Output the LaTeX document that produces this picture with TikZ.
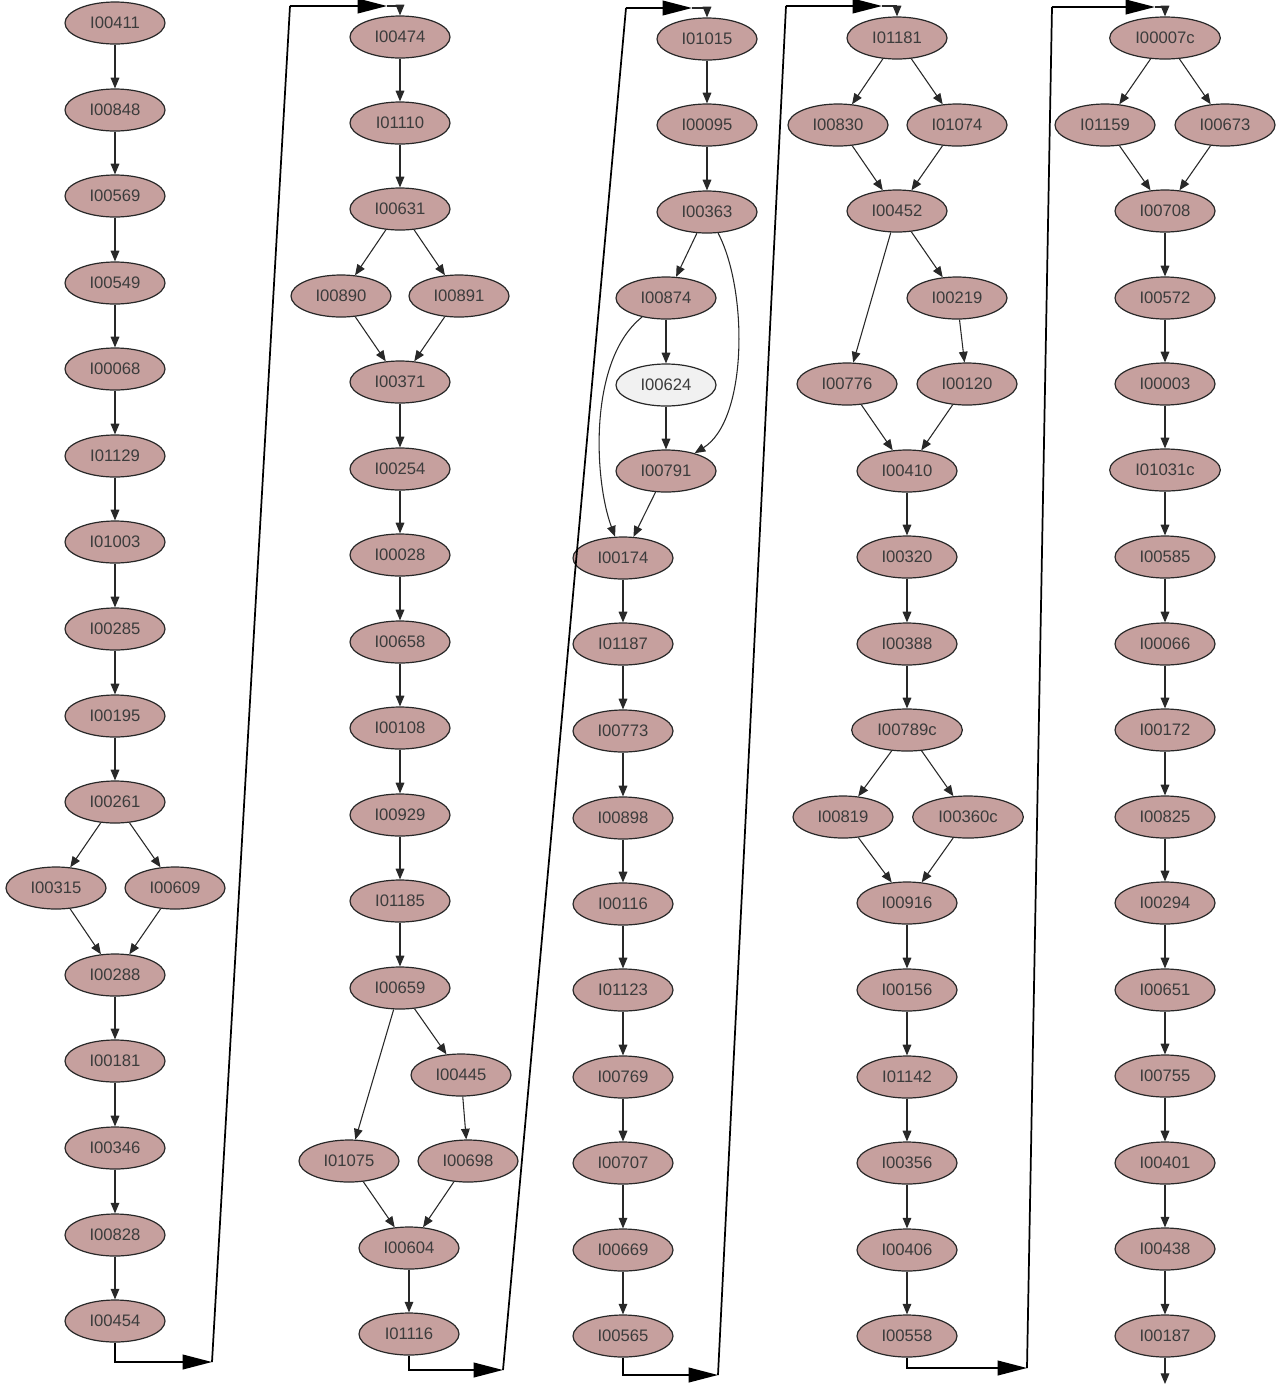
\documentclass[tikz,border=0pt]{standalone}
\usepackage{fontspec}
\setmainfont{Liberation Sans}
\usepackage{xcolor}
\usetikzlibrary{arrows.meta,shapes.geometric}
\definecolor{rose}{RGB}{198,160,158}
\definecolor{pale}{RGB}{241,241,241}
\definecolor{rim}{RGB}{40,40,40}
\definecolor{ink}{RGB}{60,60,60}

\begin{document}
\begin{tikzpicture}[x=.75pt,y=-.75pt,>={Triangle[length=8pt,width=6.5pt]},
  idnode/.style={ellipse,draw=rim,line width=.9pt,fill=rose,minimum width=75pt,minimum height=31.5pt,inner sep=0pt,text=ink,font=\fontsize{12.5}{14}\selectfont},
  wideid/.style={idnode,minimum width=83pt},
  paleid/.style={idnode,fill=pale},
  edge/.style={->,line width=.8pt,rim},
  jump/.style={line width=1.3pt,black},
  bigtip/.style={jump,-{Triangle[length=22pt,width=11pt]}}]
\useasboundingbox[fill=white] (0,0) rectangle (1283,1386);
% column 1
\foreach \n/\y in {00411/23,00848/110,00569/196,00549/283,00068/369,01129/456,01003/542,00285/629,00195/716,00261/802,00288/975,00181/1061,00346/1148,00828/1235,00454/1321}
  \node[idnode] (n\n) at (115,\y) {I\n};
\node[idnode] (n00315) at (56,888) {I00315};
\node[idnode] (n00609) at (175,888) {I00609};
% column 2
\foreach \n/\y in {00474/37,01110/123,00631/209,00371/382,00254/469,00028/555,00658/642,00108/728,00929/815,01185/901,00659/988}
  \node[idnode] (n\n) at (400,\y) {I\n};
\node[idnode] (n00890) at (341,296) {I00890};
\node[idnode] (n00891) at (459,296) {I00891};
\node[idnode] (n00445) at (461,1075) {I00445};
\node[idnode] (n01075) at (349,1161) {I01075};
\node[idnode] (n00698) at (468,1161) {I00698};
\node[idnode] (n00604) at (409,1248) {I00604};
\node[idnode] (n01116) at (409,1334) {I01116};
% column 3
\foreach \n/\y in {01015/39,00095/125,00363/212}
  \node[idnode] (n\n) at (707,\y) {I\n};
\node[idnode] (n00874) at (666,298) {I00874};
\node[paleid] (n00624) at (666,385) {I00624};
\node[idnode] (n00791) at (666,471) {I00791};
\foreach \n/\y in {00174/558,01187/644,00773/731,00898/818,00116/904,01123/990,00769/1077,00707/1163,00669/1250,00565/1336}
  \node[idnode] (n\n) at (623,\y) {I\n};
% column 4
\node[idnode] (n01181) at (897,38) {I01181};
\node[idnode] (n00830) at (838,125) {I00830};
\node[idnode] (n01074) at (957,125) {I01074};
\node[idnode] (n00452) at (897,211) {I00452};
\node[idnode] (n00219) at (957,298) {I00219};
\node[idnode] (n00776) at (847,384) {I00776};
\node[idnode] (n00120) at (967,384) {I00120};
\node[idnode] (n00819) at (843,817) {I00819};
\node[wideid] (n00360c) at (968,817) {I00360c};
\node[wideid] (n00789c) at (907,730) {I00789c};
\foreach \n/\y in {00410/471,00320/557,00388/644,00916/903,00156/990,01142/1077,00356/1163,00406/1250,00558/1336}
  \node[idnode] (n\n) at (907,\y) {I\n};
% column 5
\node[wideid] (n00007c) at (1165,38) {I00007c};
\node[idnode] (n01159) at (1105,125) {I01159};
\node[idnode] (n00673) at (1225,125) {I00673};
\node[wideid] (n01031c) at (1165,470) {I01031c};
\foreach \n/\y in {00708/211,00572/298,00003/384,00585/557,00066/644,00172/730,00825/817,00294/903,00651/990,00755/1076,00401/1163,00438/1249,00187/1336}
  \node[idnode] (n\n) at (1165,\y) {I\n};

% edges
\foreach \a/\b in {00411/00848,00848/00569,00569/00549,00549/00068,00068/01129,01129/01003,01003/00285,00285/00195,00195/00261,00261/00315,00261/00609,00315/00288,00609/00288,00288/00181,00181/00346,00346/00828,00828/00454,
  00474/01110,01110/00631,00631/00890,00631/00891,00890/00371,00891/00371,00371/00254,00254/00028,00028/00658,00658/00108,00108/00929,00929/01185,01185/00659,00659/00445,00659/01075,00445/00698,01075/00604,00698/00604,00604/01116,
  01015/00095,00095/00363,00363/00874,00874/00624,00624/00791,00791/00174,00174/01187,01187/00773,00773/00898,00898/00116,00116/01123,01123/00769,00769/00707,00707/00669,00669/00565,
  01181/00830,01181/01074,00830/00452,01074/00452,00452/00776,00452/00219,00219/00120,00776/00410,00120/00410,00410/00320,00320/00388,00388/00789c,00789c/00819,00789c/00360c,00819/00916,00360c/00916,00916/00156,00156/01142,01142/00356,00356/00406,00406/00558,
  00007c/01159,00007c/00673,01159/00708,00673/00708,00708/00572,00572/00003,00003/01031c,01031c/00585,00585/00066,00066/00172,00172/00825,00825/00294,00294/00651,00651/00755,00755/00401,00401/00438,00438/00187}
  \draw[edge] (n\a) -- (n\b);
\draw[edge] (n00363) .. controls (748,290) and (748,420) .. (n00791);
\draw[edge] (n00874) .. controls (588,360) and (594,480) .. (n00174);

% jumps between columns
\coordinate (b1) at (212,1362); \coordinate (t1) at (290,6); \coordinate (m1) at (387,6);
\coordinate (b2) at (503,1370); \coordinate (t2) at (626,8); \coordinate (m2) at (692,8);
\coordinate (b3) at (718,1375); \coordinate (t3) at (786,6); \coordinate (m3) at (882,6);
\coordinate (b4) at (1027,1368); \coordinate (t4) at (1052,7); \coordinate (m4) at (1155,7);
\coordinate (end) at (1165,1384);
\draw[bigtip] (n00454.south) |- (b1);
\draw[jump] (b1) -- (t1);
\draw[bigtip] (t1) -- (m1);
\draw[edge] (m1) -| (n00474.north);
\draw[bigtip] (n01116.south) |- (b2);
\draw[jump] (b2) -- (t2);
\draw[bigtip] (t2) -- (m2);
\draw[edge] (m2) -| (n01015.north);
\draw[bigtip] (n00565.south) |- (b3);
\draw[jump] (b3) -- (t3);
\draw[bigtip] (t3) -- (m3);
\draw[edge] (m3) -| (n01181.north);
\draw[bigtip] (n00558.south) |- (b4);
\draw[jump] (b4) -- (t4);
\draw[bigtip] (t4) -- (m4);
\draw[edge] (m4) -| (n00007c.north);
\draw[edge] (n00187.south) -- (end);
\end{tikzpicture}
\end{document}
